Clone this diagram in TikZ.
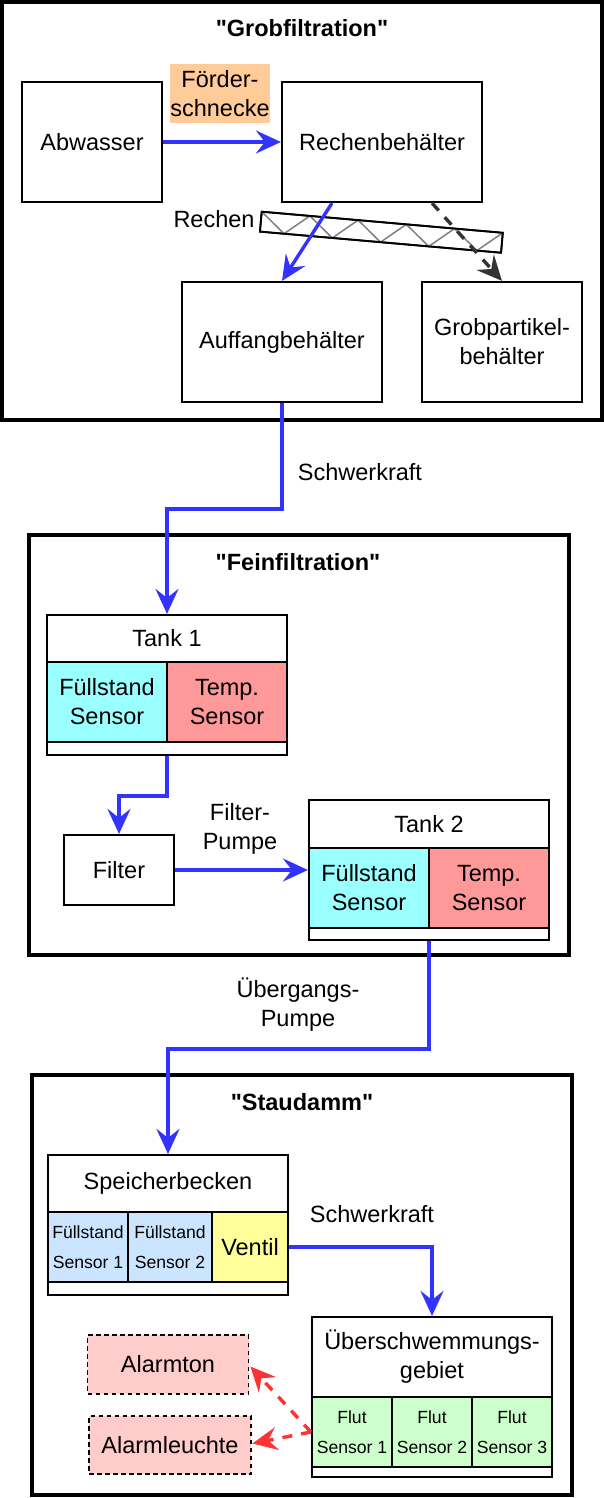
\documentclass[tikz,border=0pt]{standalone}
\usepackage{fontspec}
\setmainfont{Liberation Sans}
\newfontfamily\ttlfont{Liberation Sans}
\usetikzlibrary{arrows.meta,calc}
\definecolor{flowblue}{HTML}{3333FF}
\definecolor{darkflow}{HTML}{333333}
\definecolor{alarmred}{HTML}{FF3333}
\definecolor{cyancell}{HTML}{99FFFF}
\definecolor{redcell}{HTML}{FF9999}
\definecolor{bluecell}{HTML}{CCE5FF}
\definecolor{yellowcell}{HTML}{FFFF99}
\definecolor{greencell}{HTML}{CCFFCC}
\definecolor{alarmfill}{HTML}{FFCCCC}
\definecolor{orangelbl}{HTML}{FFCC99}
\definecolor{zigzag}{HTML}{7F7F7F}
\newcommand{\dgmain}{\fontsize{23.5pt}{29pt}\selectfont}
\newcommand{\dgsmall}{\fontsize{17.6pt}{30.5pt}\selectfont}
\begin{document}
\begin{tikzpicture}[x=1pt,y=-1pt,
  bx/.style 2 args={minimum width=#1pt, minimum height=#2pt},
  box/.style={draw, line width=2.2pt, fill=white, inner sep=0pt, align=center, font=\dgmain},
  sbox/.style={draw, line width=2.2pt, inner sep=0pt, align=center, font=\dgsmall},
  frame/.style={draw, line width=3.6pt, inner sep=0pt},
  ttl/.style={font=\ttlfont\dgmain\bfseries, inner sep=0pt},
  lbl/.style={font=\dgmain, align=center, inner sep=0pt},
  alarm/.style={draw, line width=1.8pt, dash pattern=on 4.5pt off 3.5pt, fill=alarmfill, inner sep=0pt, font=\dgmain},
  tip/.style={-{Stealth[length=25pt,width=23pt,inset=9pt]}},
  flow/.style={draw=flowblue, line width=3.4pt, tip},
  dflow/.style={draw=darkflow, line width=3.4pt, dash pattern=on 10pt off 9pt, tip},
  aflow/.style={draw=alarmred, line width=3.4pt, dash pattern=on 10pt off 9pt, tip}
]
\useasboundingbox (0,0) rectangle (604,1498);
% frames
\node[frame, bx={600.5}{418.25}] (grob) at (302,210.9) {};
\node[frame, bx={540}{420}] (fein) at (299,745) {};
\node[frame, bx={540}{420}] (stau) at (302,1285) {};
\node[ttl] (tgrob) at (302,28) {"Grobfiltration"};
\node[ttl] (tfein) at (298,562) {"Feinfiltration"};
\node[ttl] (tstau) at (302,1102) {"Staudamm"};

% Grobfiltration
\node[box, bx={140}{120}] (abw) at (92,142) {Abwasser};
\node[box, bx={200}{120}] (rb) at (382,142) {Rechenbeh\"alter};
\node[box, bx={200}{120}] (auf) at (282,342) {Auffangbeh\"alter};
\node[box, bx={160}{120}] (gp) at (502,342) {Grobpartikel-\\beh\"alter};
\node[lbl, fill=orangelbl, bx={100}{59}] (foerder) at (220,93.5) {F\"order-\\schnecke};
\node[lbl] (rechenlbl) at (214,219) {Rechen};
\begin{scope}[shift={(261.7,211.7)}, rotate=-5]
  \draw[line width=1.8pt, fill=white] (0,0) rectangle (242,20);
  \draw[zigzag, line width=1.5pt] (0,0) foreach \i in {1,...,10} { -- ({\i*24.2},{mod(\i,2)*20}) };
  \draw[line width=1.8pt] (0,0) rectangle (242,20);
\end{scope}
\draw[flow] (abw.east) -- (rb.west);
\draw[flow] ($(rb.south)+(-50,0)$) -- (auf.north);
\draw[dflow] ($(rb.south)+(50,0)$) -- (gp.north);

% Feinfiltration
\node[box, bx={240}{47}] (t1h) at (167,638.5) {Tank 1};
\node[box, fill=cyancell, bx={120}{80}] (t1f) at (107,702) {F\"ullstand\\Sensor};
\node[box, fill=redcell, bx={120}{80}] (t1t) at (227,702) {Temp.\\Sensor};
\node[box, bx={240}{13}] (t1b) at (167,748.5) {};
\node[box, bx={110}{70}] (filt) at (119,870) {Filter};
\node[box, bx={240}{48}] (t2h) at (429,824) {Tank 2};
\node[box, fill=cyancell, bx={120}{80}] (t2f) at (369,888) {F\"ullstand\\Sensor};
\node[box, fill=redcell, bx={120}{80}] (t2t) at (489,888) {Temp.\\Sensor};
\node[box, bx={240}{12}] (t2b) at (429,934) {};
\node[lbl] (fplbl) at (240,829) {Filter-\\Pumpe};
\node[lbl] (swlbl1) at (360,472) {Schwerkraft};
\draw[flow] (auf.south) -- ++(0,106) -| (t1h.north);
\draw[flow] (t1b.south) -- ++(0,40) -| (filt.north);
\draw[flow] (filt.east) -- (filt.east -| t2f.west);

% Staudamm
\node[box, bx={240}{57}] (sph) at (168,1183.5) {Speicherbecken};
\node[sbox, fill=bluecell, bx={80}{70}] (sp1) at (88,1247) {F\"ullstand\\Sensor 1};
\node[sbox, fill=bluecell, bx={84}{70}] (sp2) at (170,1247) {F\"ullstand\\Sensor 2};
\node[box, fill=yellowcell, bx={76}{70}] (ven) at (250,1247) {Ventil};
\node[box, bx={240}{13}] (spb) at (168,1288.5) {};
\node[lbl] (uplbl) at (298,1005) {\"Ubergangs-\\Pumpe};
\draw[flow] (t2b.south) -- ++(0,108) -| (sph.north);

\node[box, bx={240}{80}] (uh) at (432,1357) {\"Uberschwemmungs-\\gebiet};
\node[sbox, fill=greencell, bx={80}{70}] (f1) at (352,1432) {Flut\\Sensor 1};
\node[sbox, fill=greencell, bx={80}{70}] (f2) at (432,1432) {Flut\\Sensor 2};
\node[sbox, fill=greencell, bx={80}{70}] (f3) at (512,1432) {Flut\\Sensor 3};
\node[box, bx={240}{10}] (ub) at (432,1472) {};
\node[lbl] (swlbl2) at (372,1214) {Schwerkraft};
\draw[flow] (ven.east) -| (uh.north);

\node[alarm, bx={161}{59}] (aton) at (168,1364.5) {Alarmton};
\node[alarm, bx={162}{58}] (alicht) at (170,1445) {Alarmleuchte};
\draw[aflow] (f1.west) -- ($(aton.east)+(1,2)$);
\draw[aflow] (f1.west) -- ($(alicht.east)+(0.5,-1.5)$);
\end{tikzpicture}
\end{document}
